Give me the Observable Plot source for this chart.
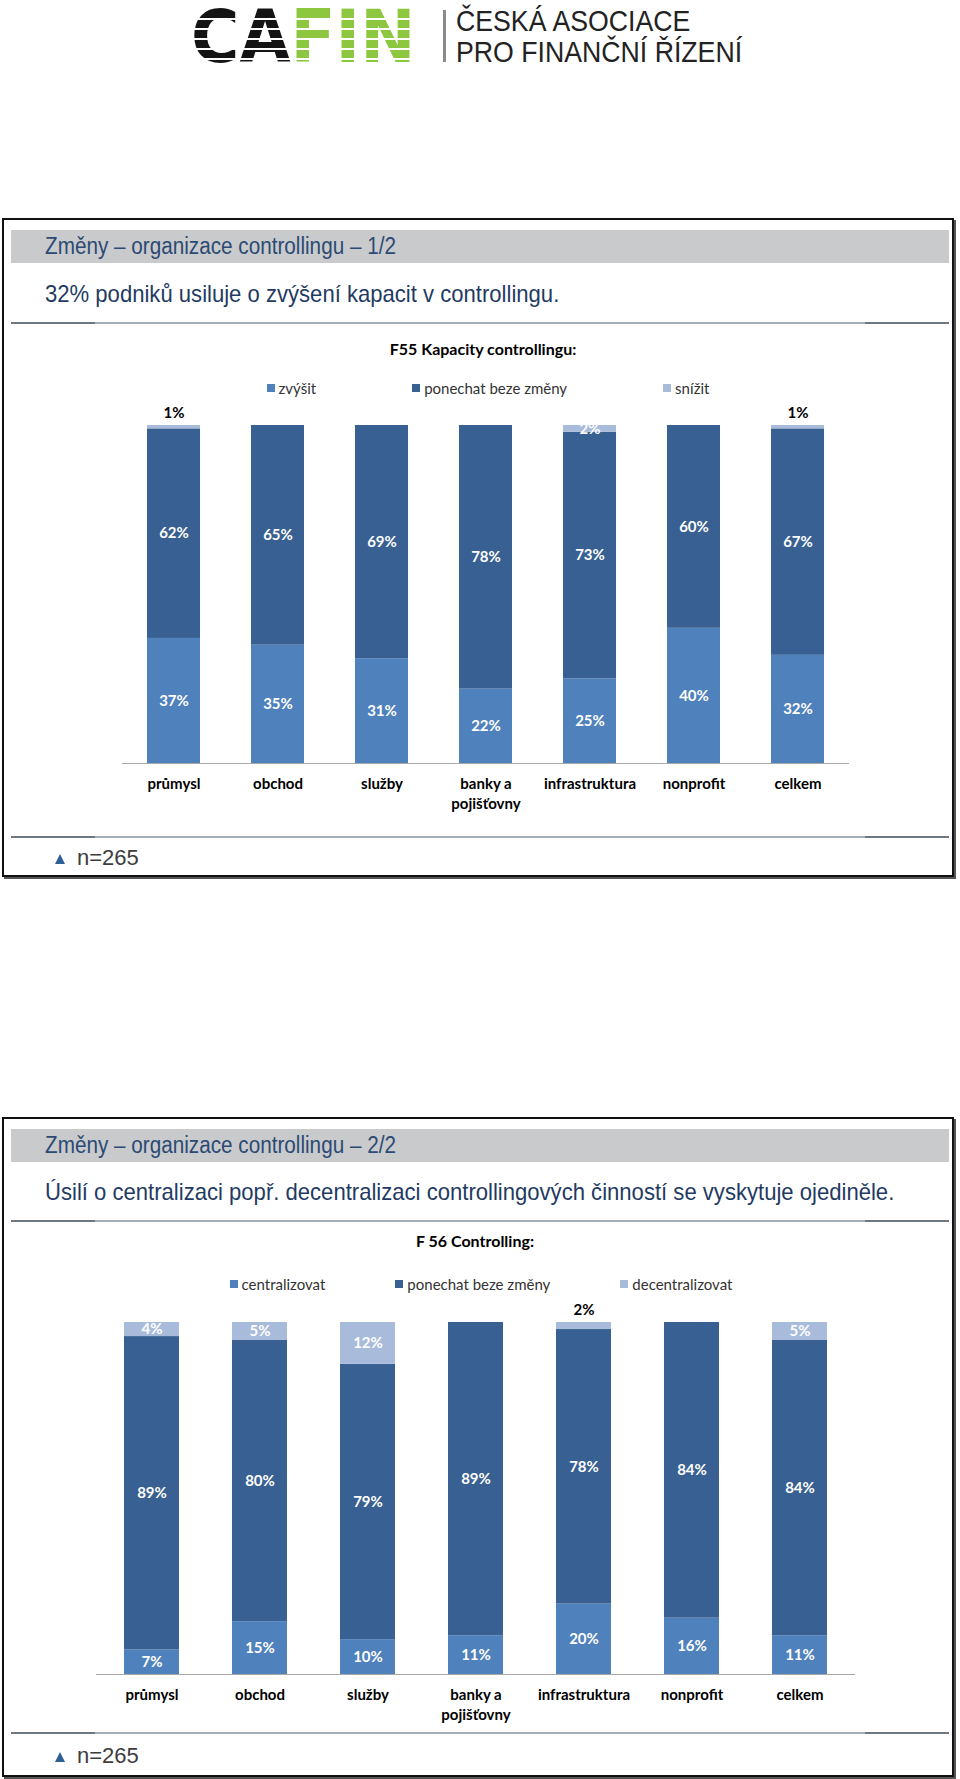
<!DOCTYPE html>
<html>
<head>
<meta charset="utf-8">
<script src="https://cdn.jsdelivr.net/npm/d3@7"></script>
<script src="https://cdn.jsdelivr.net/npm/@observablehq/plot@0.6"></script>
<style>
  html, body { margin: 0; padding: 0; background: #fff; }
  body { width: 960px; height: 1779px; position: relative; overflow: hidden; font-family: "Liberation Sans", Arial, sans-serif; }
  .abs { position: absolute; }
  .box { position: absolute; left: 2px; width: 948px; border: 2px solid #111; box-shadow: 2px 2px 0 #555; }
  .band { position: absolute; left: 11px; width: 938px; height: 33px; background: #c9cacc; }
  .band span { position: absolute; left: 34px; top: 0; line-height: 33px; font-size: 23px; color: #2c4a74; white-space: nowrap; transform: scaleX(0.9); transform-origin: left center; }
  .sub { position: absolute; left: 45px; font-size: 24px; color: #1f3b63; white-space: nowrap; line-height: 30px; transform: scaleX(0.92); transform-origin: left center; }
  .hline { position: absolute; left: 11px; width: 938px; height: 2px; background: linear-gradient(to right, #6e7782 0 9%, #a4adb8 9% 91%, #6e7782 91% 100%); }
  .ctitle { position: absolute; width: 400px; text-align: center; font-family: Lato, sans-serif; font-weight: bold; font-size: 16px; color: #000; line-height: 20px; }
  .legend { position: absolute; display: flex; justify-content: center; font-family: Lato, sans-serif; font-size: 15px; color: #333; line-height: 18px; white-space: nowrap; }
  .legend .item { display: flex; align-items: center; }
  .legend .sw { width: 8px; height: 8px; margin-right: 4px; }
  .nrow { position: absolute; left: 55px; font-size: 22px; color: #3d3d3d; line-height: 24px; }
  .tri { display: inline-block; width: 0; height: 0; border-left: 5px solid transparent; border-right: 5px solid transparent; border-bottom: 10px solid #2e5f95; margin-right: 12px; vertical-align: 1px; }
  .chart { position: absolute; left: 0; }
  .logo { position: absolute; font: bold 66px/72px "DejaVu Sans", sans-serif; white-space: nowrap; transform: scaleY(1.1); transform-origin: left top; }
</style>
</head>
<body>
<!-- logo -->
<div class="logo" style="left:191px;top:-2px;"><span style="color:#141414">CA</span><span style="color:#8dc63f">FIN</span></div>
<div class="abs" style="left:188px;top:10px;width:232px;height:54px;background:repeating-linear-gradient(to bottom, transparent 0 8px, #fff 8px 10px);"></div>
<div class="abs" style="left:443px;top:10px;width:3px;height:52px;background:#8a8a8a;"></div>
<div class="abs" style="left:456px;top:6px;font-size:29px;line-height:31px;color:#222;white-space:nowrap;transform:scaleX(0.92);transform-origin:left top;">ČESKÁ ASOCIACE<br>PRO FINANČNÍ ŘÍZENÍ</div>

<!-- panel 1 -->
<div class="box" style="top:218px;height:655px;"></div>
<div class="band" style="top:230px;"><span>Změny – organizace controllingu – 1/2</span></div>
<div class="sub" style="top:279px;">32% podniků usiluje o zvýšení kapacit v controllingu.</div>
<div class="hline" style="top:322px;"></div>
<div class="ctitle" style="left:283px;top:339px;">F55 Kapacity controllingu:</div>
<div class="legend" id="leg1" style="left:0;width:976px;top:379px;"></div>
<div class="chart" id="c1" style="top:400px;"></div>
<div class="hline" style="top:836px;"></div>
<div class="nrow" style="top:846px;"><span class="tri"></span>n=265</div>

<!-- panel 2 -->
<div class="box" style="top:1117px;height:656px;"></div>
<div class="band" style="top:1129px;"><span>Změny – organizace controllingu – 2/2</span></div>
<div class="sub" style="top:1177px;">Úsilí o centralizaci popř. decentralizaci controllingových činností se vyskytuje ojediněle.</div>
<div class="hline" style="top:1220px;"></div>
<div class="ctitle" style="left:275px;top:1231px;">F 56 Controlling:</div>
<div class="legend" id="leg2" style="left:0;width:962px;top:1275px;"></div>
<div class="chart" id="c2" style="top:1293px;"></div>
<div class="hline" style="top:1732px;"></div>
<div class="nrow" style="top:1744px;"><span class="tri"></span>n=265</div>

<script>
// ---- data ----
const categories = ["průmysl", "obchod", "služby", "banky a pojišťovny", "infrastruktura", "nonprofit", "celkem"];

const f55Series = ["zvýšit", "ponechat beze změny", "snížit"];
const f55Zvysit   = [37, 35, 31, 22, 25, 40, 32];
const f55Ponechat = [62, 65, 69, 78, 73, 60, 67];
const f55Snizit   = [1, 0, 0, 0, 2, 0, 1];
const f55Above    = ["průmysl", "celkem"];        // top-segment labels shown above the bar

const f56Series = ["centralizovat", "ponechat beze změny", "decentralizovat"];
const f56Central    = [7, 15, 10, 11, 20, 16, 11];
const f56Ponechat   = [89, 80, 79, 89, 78, 84, 84];
const f56Decentral  = [4, 5, 12, 0, 2, 0, 5];
const f56Above      = ["infrastruktura"];

const seriesColors = ["#4f81bd", "#386092", "#a9bbdb"];

function buildRows(series, valueLists) {
  const rows = [];
  series.forEach((s, si) => categories.forEach((c, ci) => rows.push({
    cat: c, series: s, value: valueLists[si][ci], top: si === series.length - 1
  })));
  return rows;
}

function legend(el, series, gap) {
  el.style.gap = gap + "px";
  series.forEach((s, i) => {
    const it = document.createElement("div");
    it.className = "item";
    it.innerHTML = `<span class="sw" style="background:${seriesColors[i]}"></span><span>${s}</span>`;
    el.appendChild(it);
  });
}

function chart(rows, series, above, o) {
  const isAbove = d => d.top && above.includes(d.cat);
  const stackOpts = {x: "cat", y: "value", z: "series", offset: "normalize"};
  return Plot.plot({
    width: 960,
    height: o.height,
    marginTop: o.marginTop,
    marginBottom: o.marginBottom,
    marginLeft: o.marginLeft,
    marginRight: o.marginRight,
    style: {fontFamily: "Lato, sans-serif", fontSize: "15px", color: "#000", background: "transparent", overflow: "visible"},
    x: {domain: categories, paddingInner: 0.49, paddingOuter: o.paddingOuter},
    y: {domain: [0, 1], axis: null},
    color: {domain: series, range: seriesColors},
    marks: [
      Plot.barY(rows, Plot.stackY({...stackOpts, fill: "series"})),
      Plot.ruleY([0], {stroke: "#a8a8a8", strokeWidth: 1.2}),
      Plot.text(rows, Plot.stackY({...stackOpts,
        text: d => (d.value > 0 && !isAbove(d)) ? d.value + "%" : "",
        fill: "white", fontWeight: "bold"})),
      Plot.text(rows, Plot.stackY2({...stackOpts,
        text: d => isAbove(d) ? d.value + "%" : "",
        fill: "black", fontWeight: "bold", dy: -12})),
      Plot.axisX({
        tickSize: 0, tickPadding: 12, label: null, fontWeight: "bold", lineHeight: 1.3,
        tickFormat: d => d.replace("banky a ", "banky a\n")
      })
    ]
  });
}

legend(document.getElementById("leg1"), f55Series, 96);
legend(document.getElementById("leg2"), f56Series, 70);

document.getElementById("c1").appendChild(chart(
  buildRows(f55Series, [f55Zvysit, f55Ponechat, f55Snizit]), f55Series, f55Above,
  {height: 420, marginTop: 25, marginBottom: 57, marginLeft: 122, marginRight: 111, paddingOuter: 0.23}
));
document.getElementById("c2").appendChild(chart(
  buildRows(f56Series, [f56Central, f56Ponechat, f56Decentral]), f56Series, f56Above,
  {height: 440, marginTop: 29, marginBottom: 59, marginLeft: 96, marginRight: 105, paddingOuter: 0.25}
));
</script>
</body>
</html>
